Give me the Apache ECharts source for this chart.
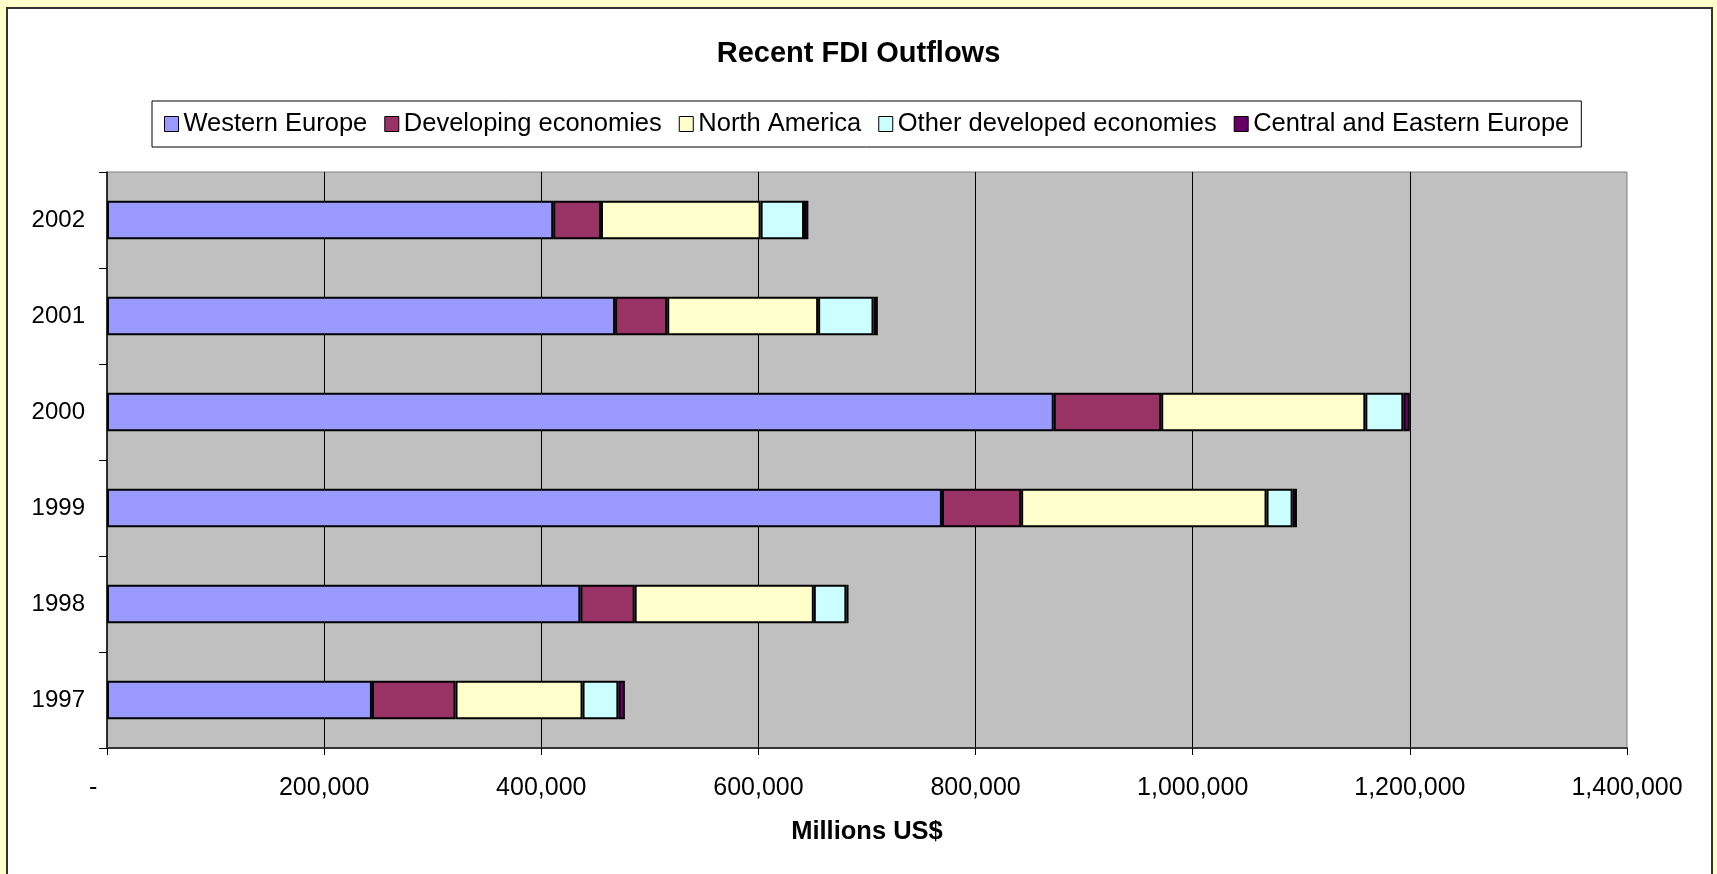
<!DOCTYPE html>
<html>
<head>
<meta charset="utf-8">
<title>Recent FDI Outflows</title>
<script src="https://cdn.jsdelivr.net/npm/echarts@6/dist/echarts.min.js"></script>
<style>
  html, body { margin: 0; padding: 0; background: #FFFFCC; }
  #chart { width: 1717px; height: 874px; }
</style>
</head>
<body>
<div id="chart"></div>
<script>
// FDI outflows by region, millions of US$
const years = ['1997', '1998', '1999', '2000', '2001', '2002'];
const seriesNames = ['Western Europe', 'Developing economies', 'North America', 'Other developed economies', 'Central and Eastern Europe'];
const westernEurope = [244000, 436000, 769000, 872000, 468000, 411000];
const developingEconomies = [77000, 50000, 73000, 99000, 48000, 44000];
const northAmerica = [117000, 165000, 226000, 188000, 139000, 147000];
const otherDeveloped = [33000, 30000, 24000, 35000, 51000, 40000];
const centralEasternEurope = [6000, 2000, 4000, 6000, 4000, 4000];
const xTicks = [0, 200000, 400000, 600000, 800000, 1000000, 1200000, 1400000];

const seriesValues = [westernEurope, developingEconomies, northAmerica, otherDeveloped, centralEasternEurope];
const seriesColors = ['#9999FF', '#993366', '#FFFFCC', '#CCFFFF', '#660066'];

const FONT = "'Liberation Sans', Arial, sans-serif";

const chart = echarts.init(document.getElementById('chart'), null, { renderer: 'canvas' });

function fmtNumber(v) {
  if (v === 0) return '-    ';
  return v.toLocaleString('en-US');
}

const option = {
  backgroundColor: '#FFFFCC',
  animation: false,
  textStyle: { fontFamily: FONT, color: '#000' },
  graphic: [{
    type: 'rect',
    z: -10,
    silent: true,
    shape: { x: 7, y: 8, width: 1705, height: 880 },
    style: { fill: '#FFFFFF', stroke: '#333333', lineWidth: 2 }
  }],
  title: {
    text: 'Recent FDI Outflows',
    left: 'center',
    top: 34,
    textStyle: { fontFamily: FONT, fontSize: 29, fontWeight: 'bold', color: '#000' }
  },
  legend: {
    data: seriesNames,
    left: 152,
    top: 101,
    padding: [10, 12],
    itemWidth: 14,
    itemHeight: 15,
    itemGap: 17,
    backgroundColor: '#FFFFFF',
    borderColor: '#000',
    borderWidth: 1,
    icon: 'rect',
    itemStyle: { borderColor: '#000', borderWidth: 1 },
    textStyle: { fontFamily: FONT, fontSize: 25.5, color: '#000' }
  },
  grid: {
    left: 107,
    top: 172,
    width: 1520,
    height: 576,
    show: true,
    backgroundColor: '#C0C0C0',
    borderColor: '#808080',
    borderWidth: 1,
    containLabel: false
  },
  xAxis: {
    type: 'value',
    min: xTicks[0],
    max: xTicks[xTicks.length - 1],
    interval: xTicks[1] - xTicks[0],
    name: 'Millions US$',
    nameLocation: 'middle',
    nameGap: 71,
    nameTextStyle: { fontFamily: FONT, fontSize: 25.5, fontWeight: 'bold', color: '#000' },
    axisLine: { show: true, lineStyle: { color: '#333', width: 2 } },
    axisTick: { show: true, length: 7, lineStyle: { color: '#000', width: 1 } },
    axisLabel: {
      margin: 28,
      fontFamily: FONT,
      fontSize: 25,
      color: '#000',
      formatter: fmtNumber
    },
    splitLine: {
      show: true,
      showMinLine: false,
      showMaxLine: false,
      lineStyle: { color: '#000', width: 1 }
    }
  },
  yAxis: {
    type: 'category',
    data: years,
    axisLine: { show: true, lineStyle: { color: '#000', width: 1.5 } },
    axisTick: { show: true, length: 8, lineStyle: { color: '#000', width: 1 } },
    axisLabel: { margin: 22, fontFamily: FONT, fontSize: 24, color: '#000' },
    splitLine: { show: false }
  },
  series: seriesNames.map((name, i) => ({
    name: name,
    type: 'bar',
    stack: 'total',
    barCategoryGap: '60%',
    data: seriesValues[i],
    itemStyle: { color: seriesColors[i], borderColor: '#000', borderWidth: 2 }
  }))
};

chart.setOption(option);
</script>
</body>
</html>
